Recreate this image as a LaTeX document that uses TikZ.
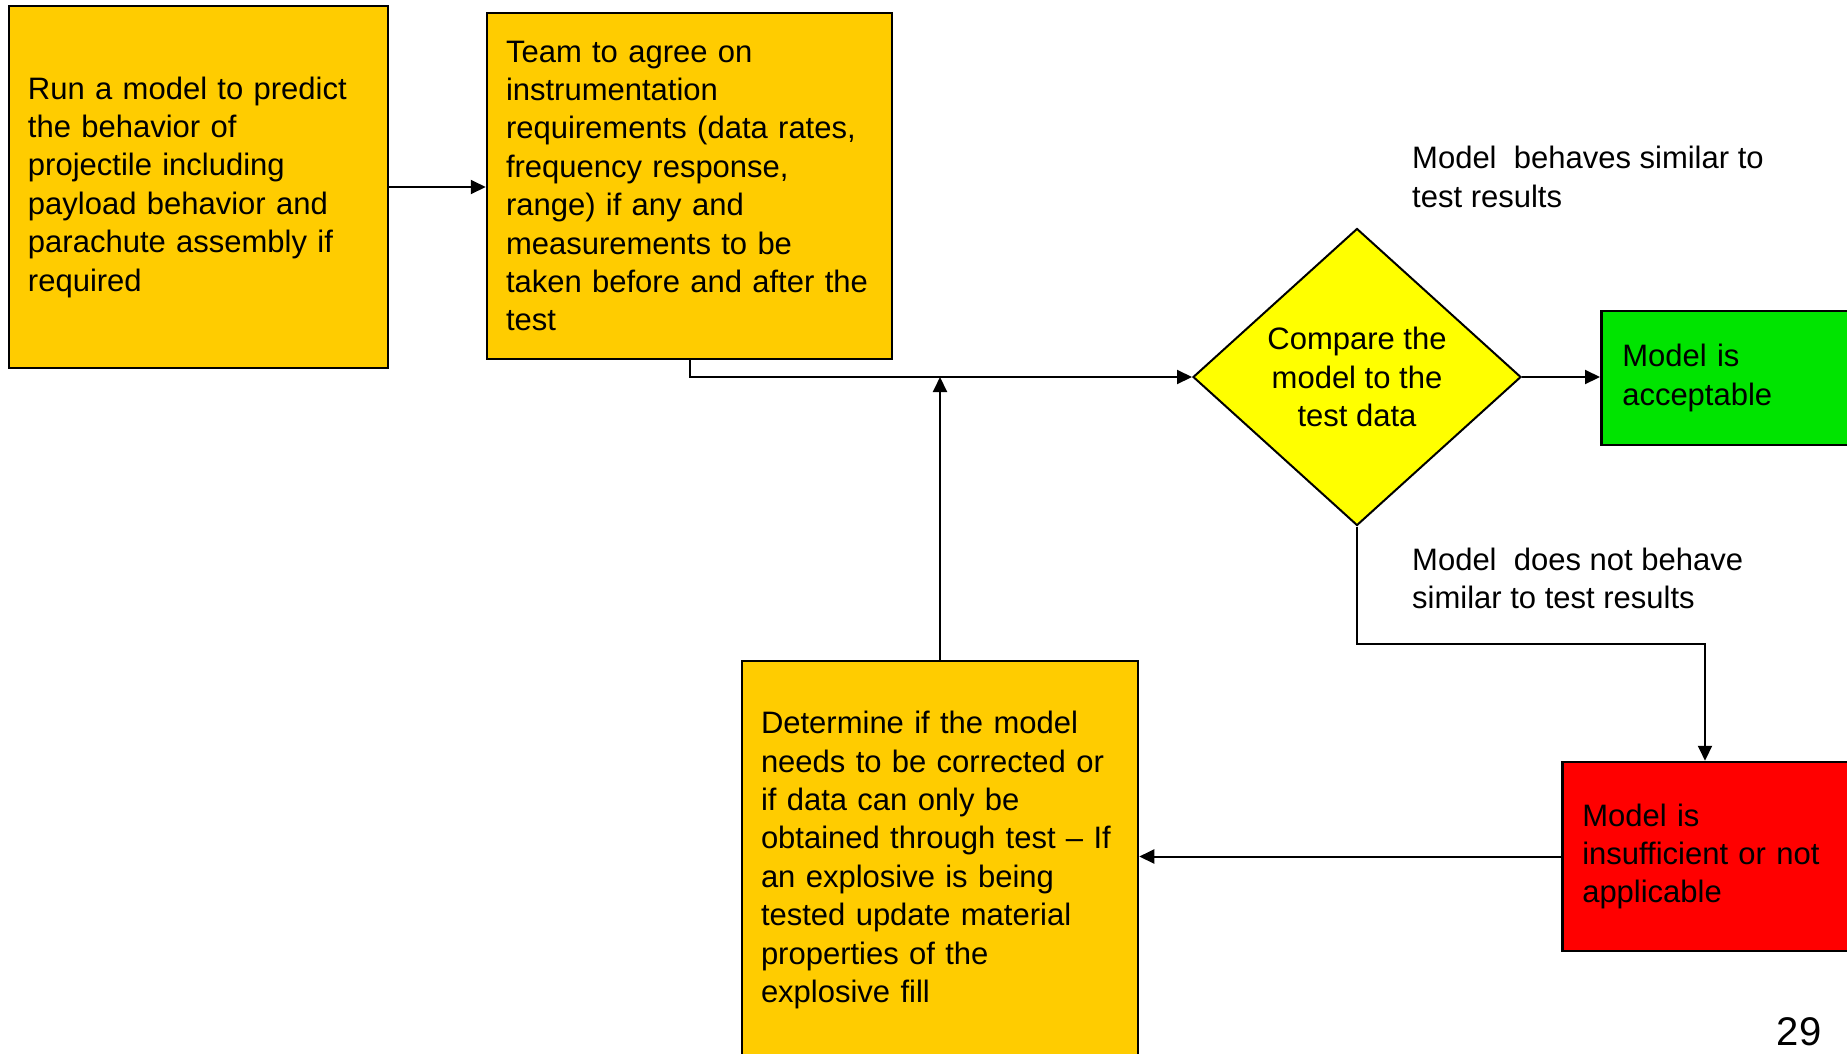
\documentclass[tikz,border=0pt]{standalone}
\usepackage{fontspec}
\setmainfont{Liberation Sans}
\usetikzlibrary{shapes.geometric,arrows.meta}
\definecolor{amber}{HTML}{FFCC00}
\definecolor{okgreen}{HTML}{00E400}
\definecolor{badred}{HTML}{FF0000}
\definecolor{dyellow}{HTML}{FFFF00}
\tikzset{
  txt/.style={font=\fontsize{31}{38.4}\selectfont},
  box/.style={txt, draw=black, line width=2.5pt, inner ysep=0pt, align=left},
  proc/.style={box, fill=amber},
  decision/.style={txt, diamond, draw=black, line width=2pt, fill=dyellow, inner sep=0pt, align=center},
  conn/.style={line width=2pt, -{Triangle[length=15pt,width=14pt]}},
  note/.style={txt, anchor=west, align=left, inner sep=0pt}
}
\begin{document}
\begin{tikzpicture}[x=1pt,y=-1pt]
\useasboundingbox (0,0) rectangle (1847,1053);
\clip (0,0) rectangle (1847,1053);

% process steps (left text inset 19pt, right inset narrow so lines never rewrap)
\node[proc, inner xsep=0pt, text width=379pt, minimum height=362pt] (run) at (198.5,187)
  {\hspace*{19pt}\parbox[t]{355pt}{Run a model to predict\\the behavior of\\projectile including\\payload behavior and\\parachute assembly if\\required}};
\node[proc, inner xsep=0pt, text width=405pt, minimum height=346pt] (team) at (689.5,186)
  {\hspace*{19pt}\parbox[t]{380pt}{Team to agree on\\instrumentation\\requirements (data rates,\\frequency response,\\range) if any and\\measurements to be\\taken before and after the\\test}};
\node[decision, minimum width=328pt, minimum height=297pt] (cmp) at (1357,377)
  {Compare the\\model to the\\test data};
\node[box, fill=okgreen, anchor=west, inner xsep=21pt, text width=260pt, minimum height=134pt] (ok) at (1600,378)
  {Model is\\acceptable};
\node[box, fill=badred, anchor=west, inner xsep=20pt, text width=270pt, minimum height=189pt] (bad) at (1561,856.5)
  {Model is\\insufficient or not\\applicable};
\node[proc, inner xsep=0pt, text width=396pt, minimum height=398pt] (fix) at (940,860)
  {\hspace*{19pt}\parbox[t]{372pt}{Determine if the model\\needs to be corrected or\\if data can only be\\obtained through test -- If\\an explosive is being\\tested update material\\properties of the\\explosive fill}};

% branch notes
\node[note] (yes) at (1412,177) {Model\ \ behaves similar to\\test results};
\node[note] (no) at (1412,578.5) {Model\ \ does not behave\\similar to test results};

% page number
\node[font=\fontsize{40}{48}\selectfont, inner sep=0pt] (pg) at (1799,1032) {29};

% connectors
\coordinate (turn) at (1705,644);
\draw[conn] (run.east) -- (team.west |- run.east);
\draw[conn] (team.south) |- (cmp.west);
\draw[conn] (cmp.east) -- (ok.west |- cmp.east);
\draw[conn] (cmp.south) |- (turn) -- (turn |- bad.north);
\draw[conn] (bad.west) -- (fix.east |- bad.west);
\draw[conn] (fix.north) -- (fix.north |- cmp.west);
\end{tikzpicture}
\end{document}
